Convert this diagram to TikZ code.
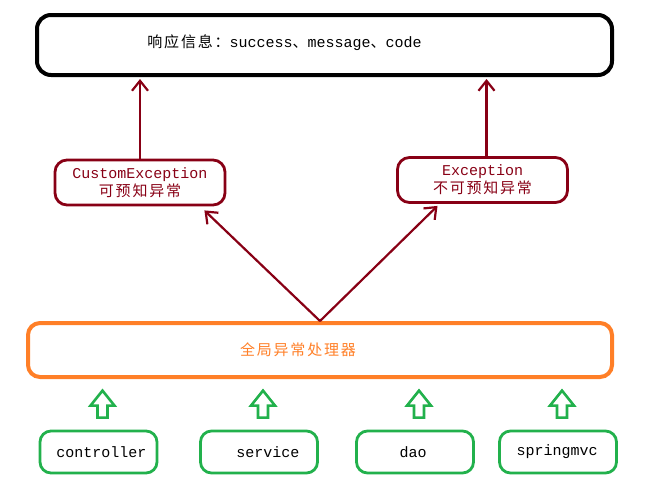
\documentclass[tikz,border=0pt]{standalone}
\usepackage{fontspec}
\setmainfont{Liberation Mono}
\newfontfamily\cjk[LetterSpace=12]{Noto Sans CJK SC}
\usetikzlibrary{positioning, arrows.meta}
\definecolor{exred}{HTML}{880015}
\definecolor{exorange}{HTML}{FF7F27}
\definecolor{exgreen}{HTML}{22B14C}
\newcommand{\zh}[1]{{\cjk #1}}

\begin{document}
\begin{tikzpicture}[x=1pt, y=-1pt, line width=2.2pt,
    >={Straight Barb[length=10pt, width=16pt]},
    font=\fontsize{15}{18}\selectfont,
    respbox/.style={draw=black, line width=4pt, rounded corners=14pt,
                    minimum width=575pt, minimum height=60pt},
    excbox/.style={draw=exred, line width=2.8pt, rounded corners=12pt,
                   text=exred, align=center, minimum width=170pt, minimum height=45pt},
    handlerbox/.style={draw=exorange, line width=4pt, rounded corners=12pt,
                       minimum width=584pt, minimum height=54pt},
    layerbox/.style={draw=exgreen, line width=2.8pt, rounded corners=11pt,
                     minimum width=117pt, minimum height=42pt},
    hollowarr/.style={draw=exgreen, line width=2.6pt, line join=miter}]
  \useasboundingbox (0,0) rectangle (668,485);
  % response
  \node[respbox] (resp) at (324.5,45) {};
  \node[anchor=west] (resptxt) at (143,43)
    {\zh{响应信息：}success\zh{、}message\zh{、}code};
  % exception types
  \node[excbox] (cust) at (140,182.5) {CustomException\\\zh{可预知异常}};
  \node[excbox] (exc) at (482.5,180) {Exception\\\zh{不可预知异常}};
  \draw[->, draw=exred] (cust.north) -- ([yshift=-2pt]cust.north |- resp.south);
  \draw[->, draw=exred] ([xshift=4pt]exc.north) -- ([xshift=4pt,yshift=-2pt]exc.north |- resp.south);
  % global handler
  \node[handlerbox] (handler) at (320,350) {};
  \node[text=exorange] (handlertxt) at ([xshift=-22pt]handler.center) {\zh{全局异常处理器}};
  \draw[->, draw=exred] (handler.north) -- ([xshift=-22pt,yshift=-4pt]cust.south east);
  \draw[->, draw=exred] (handler.north) -- ([xshift=-45pt,yshift=-2pt]exc.south);
  % layers
  \foreach \nm/\x/\dx/\lab in {ctl/98.5/3/controller, svc/259/9/service,
                               dao/415/-2/dao, mvc/558/-1/springmvc}{
    \node[layerbox] (\nm) at (\x,452) {};
    \node (\nm txt) at ([xshift=\dx pt]\nm.center) {\lab};
    \coordinate (\nm arr) at ([xshift=4pt,yshift=12pt]\nm.north);
    \draw[hollowarr] (\nm arr) ++(-5,0) -- ++(0,-12) -- ++(-7,0) -- ++(12,-15)
      -- ++(12,15) -- ++(-7,0) -- ++(0,12) -- cycle;
  }
\end{tikzpicture}
\end{document}
